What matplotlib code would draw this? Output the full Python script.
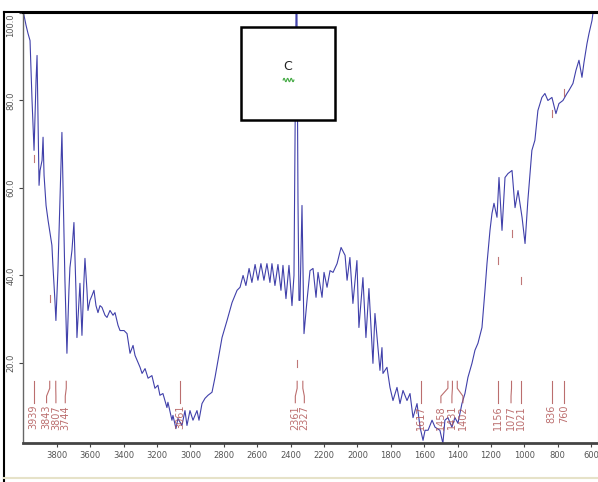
import matplotlib
matplotlib.use("Agg")
import matplotlib.pyplot as plt
from matplotlib.lines import Line2D
from matplotlib.patches import Rectangle
import numpy as np

# FTIR spectrum, sample C (wavenumber cm-1 / %T)
wavenumber = [4000, 3985, 3973, 3961, 3949, 3937, 3925, 3919, 3913, 3907, 3901, 3889, 3883, 3877,
              3865, 3853, 3841, 3830, 3824, 3812, 3806, 3794, 3782, 3770, 3764, 3752, 3740, 3728,
              3722, 3710, 3698, 3686, 3680, 3668, 3662, 3650, 3638, 3632, 3620, 3614, 3602, 3590,
              3578, 3566, 3554, 3542, 3530, 3512, 3500, 3482, 3464, 3452, 3434, 3422, 3398, 3380,
              3362, 3344, 3332, 3314, 3302, 3290, 3272, 3254, 3231, 3213, 3195, 3183, 3165, 3141,
              3135, 3111, 3105, 3087, 3075, 3051, 3033, 3021, 3003, 2985, 2961, 2949, 2931, 2913,
              2895, 2871, 2853, 2835, 2811, 2781, 2751, 2721, 2703, 2685, 2668, 2649, 2632, 2613,
              2596, 2578, 2560, 2542, 2524, 2512, 2494, 2476, 2458, 2446, 2428, 2410, 2392, 2380,
              2368, 2362, 2356, 2350, 2344, 2332,
              2320, 2302, 2284, 2266, 2248, 2236, 2212, 2200, 2182, 2164, 2146, 2122, 2098, 2074,
              2062, 2045, 2027, 2003, 1991, 1967, 1949, 1931, 1907, 1895, 1865, 1853, 1847, 1823,
              1805, 1787, 1763, 1745, 1727, 1703, 1685, 1667, 1643, 1625, 1607, 1595, 1577, 1553,
              1535, 1506, 1488, 1476, 1458, 1434, 1416, 1398, 1374, 1356, 1338, 1314, 1296, 1278,
              1254, 1236, 1224, 1206, 1194, 1182, 1164, 1152, 1134, 1116, 1098, 1074, 1056, 1038,
              1014, 996, 979, 955, 937, 919, 895, 877, 859, 835, 811, 793, 769, 745, 733, 709,
              691, 673, 655, 643, 625, 613, 595, 589]
transmittance = [100.0, 97.2, 95.3, 93.7, 80.0, 68.6, 84.6, 90.3, 75.4, 60.6, 64.0, 66.3, 71.6, 62.9,
                 56.0, 52.6, 49.6, 46.9, 42.3, 34.3, 29.7, 41.1, 57.2, 72.7, 61.7, 38.9, 22.2, 36.6,
                 41.8, 45.7, 52.1, 36.6, 25.8, 34.3, 38.2, 26.3, 38.9, 43.9, 36.6, 32.0, 34.3, 35.4,
                 36.6, 33.1, 31.5, 33.1, 32.7, 30.9, 30.4, 32.0, 30.9, 31.5, 28.6, 27.4, 27.4, 26.7,
                 22.2, 24.0, 21.7, 20.1, 19.0, 17.6, 18.7, 16.5, 17.1, 14.2, 14.9, 12.6, 13.0, 9.8,
                 11.0, 6.9, 8.0, 5.0, 7.3, 5.7, 9.1, 5.7, 9.1, 6.9, 9.1, 6.9, 10.7, 11.9,
                 12.6, 13.3, 16.7, 20.6, 25.8, 29.7, 33.8, 36.6, 37.3, 40.0, 37.7, 41.6, 38.4, 42.5,
                 38.9, 42.7, 38.9, 42.7, 38.4, 42.7, 37.7, 42.5, 36.6, 42.3, 34.7, 42.3, 33.1, 40.0,
                 100.0, 100.0, 57.0, 34.3, 34.3, 56.0,
                 26.7, 34.3, 41.1, 41.6, 35.0, 40.7, 35.0, 40.7, 37.3, 41.1, 40.7, 42.7, 46.4, 44.6,
                 38.9, 44.1, 33.6, 43.4, 28.1, 39.5, 25.8, 37.0, 19.9, 31.3, 18.3, 23.5, 17.6, 19.0,
                 14.4, 11.4, 14.4, 10.7, 13.7, 11.4, 13.0, 7.5, 10.7, 5.3, 2.3, 4.6, 4.6, 6.9,
                 5.3, 4.6, 1.6, 6.9, 7.5, 5.3, 7.5, 6.2, 10.7, 13.0, 16.7, 19.9, 22.9, 24.5,
                 28.1, 36.6, 42.7, 50.3, 54.2, 56.5, 53.3, 62.4, 50.3, 62.4, 63.3, 64.0, 55.5, 59.4,
                 53.3, 47.3, 57.2, 68.6, 70.9, 77.7, 80.7, 81.6, 80.0, 80.7, 77.0, 79.3, 80.0, 81.6, 82.3, 83.9,
                 86.9, 89.2, 85.3, 88.7, 93.0, 95.3, 98.3, 100.0]

# peak labels along the bottom, and where each label text sits (spread when crowded)
peak_labels = [3939, 3843, 3807, 3744, 3061, 2361, 2327, 1617, 1458, 1431, 1402, 1156, 1077, 1021, 836, 760]
label_pos = [3939, 3862, 3806, 3750, 3061, 2372, 2318, 1617, 1500, 1434, 1368, 1156, 1080, 1021, 836, 760]

# little red marks under picked peaks
mark_wn = [3939, 3843, 2361, 1156, 1077, 1021, 836, 760]
mark_T = [66.7, 34.7, 19.9, 43.4, 49.6, 38.9, 77.0, 81.8]

xticks = [3800, 3600, 3400, 3200, 3000, 2800, 2600, 2400, 2200, 2000, 1800, 1600, 1400, 1200, 1000, 800, 600]
yticks = [20, 40, 60, 80, 100]

red = '#b05555'
tickfont = ['Liberation Sans Narrow', 'DejaVu Sans']

fig = plt.figure(figsize=(5.98, 4.82), dpi=100)
ax = fig.add_axes([0.0385, 0.081, 0.9615, 0.892])

ax.plot(wavenumber, transmittance, color='#4040aa', lw=0.8)

for w, t in zip(mark_wn, mark_T):
    ax.plot([w, w], [t - 0.8, t + 0.8], color=red, lw=0.8, alpha=0.8)

for p, lp in zip(peak_labels, label_pos):
    ax.plot([p, p, lp, lp], [15.8, 14.2, 12.4, 10.9], color=red, lw=0.8, alpha=0.85)
    ax.text(lp, 10.4, str(p), rotation=90, ha='center', va='top', fontsize=7, color=red, alpha=0.85)

ax.set_xlim(4003, 559)
ax.set_ylim(1.7, 100)
ax.set_xticks(xticks)
ax.set_xticklabels([str(v) for v in xticks], family=tickfont)
ax.set_yticks(yticks)
ax.set_yticklabels(['%.1f' % v for v in yticks], rotation=90, va='center', family=tickfont)
ax.get_yticklabels()[-1].set_va('top')
ax.tick_params(axis='both', labelsize=6, labelcolor='#555555', color='#444444',
               length=3, width=0.8, pad=2.5)

ax.spines['left'].set_color('#666666')
ax.spines['left'].set_linewidth(1)
ax.spines['bottom'].set_color('#444444')
ax.spines['bottom'].set_linewidth(2)
ax.spines['top'].set_color('black')
ax.spines['top'].set_linewidth(1.5)
ax.spines['right'].set_color('#cccccc')
ax.spines['right'].set_linewidth(0.8)

# outer frame of the screenshot
fig.add_artist(Line2D([0.0067, 0.0067], [0.0, 0.975], color='black', lw=1.5))
fig.add_artist(Line2D([0.0067, 1.0], [0.975, 0.975], color='black', lw=1.5))
fig.add_artist(Line2D([0.0067, 1.0], [0.008, 0.008], color='#e6e2c8', lw=1.5))

# sample box
box = Rectangle((0.403, 0.751), 0.157, 0.193, transform=fig.transFigure,
                facecolor='white', edgecolor='black', lw=1.8, zorder=5)
fig.add_artist(box)
fig.text(0.4816, 0.861, 'C', fontsize=9, ha='center', va='center', color='#222222', zorder=6)
sq = np.linspace(0, 1, 40)
fig.add_artist(Line2D(0.4735 + 0.018 * sq, 0.834 + 0.0035 * np.sin(sq * 4 * np.pi * 1.5),
                      color='#44aa44', lw=0.8, zorder=6))

fig.savefig('out.png', dpi=100, facecolor='white')
